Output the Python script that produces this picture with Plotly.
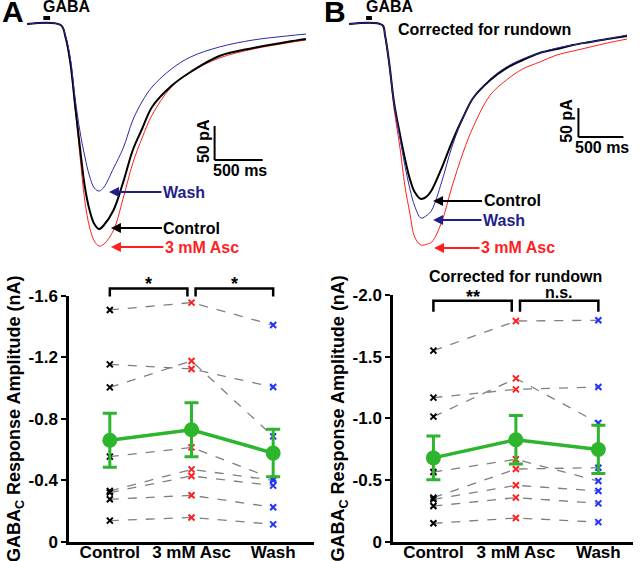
import numpy as np
import plotly.graph_objects as go

# ---------------- example current traces (time ms, current pA) ----------------
t_a = [0, 350, 400, 450, 500, 550, 600, 650, 700, 750, 800, 900, 1000, 1100,
       1200, 1300, 1500, 1700, 2000, 2350, 2700, 2900]
wash_a = [0, -1.5, -17.6, -50.0, -108.8, -157.3, -194.1, -223.5, -241.2, -245.6,
          -239.7, -211.8, -182.4, -141.2, -113.2, -92.6, -66.2, -48.5, -33.8,
          -23.5, -17.6, -14.7]
ctrl_a = [0, -1.5, -19.1, -55.9, -119.1, -180.9, -238.2, -273.5, -294.1, -301.5,
          -295.5, -273.4, -232.3, -185.2, -152.9, -122.0, -91.2, -70.6, -47.1,
          -35.3, -26.5, -22.1]
asc_a = [0, -1.5, -20.6, -58.8, -123.5, -192.6, -258.8, -298.5, -319.1, -326.5,
         -323.5, -302.8, -255.9, -204.4, -166.2, -133.8, -92.6, -70.6, -50.0,
         -36.8, -27.9, -23.5]

t_b = [0, 370, 400, 450, 500, 570, 620, 680, 730, 800, 870, 920, 1030, 1140,
       1270, 1380, 1570, 1750, 1930, 2120, 2310, 2490, 2680, 2870, 3090]
wash_b = [0, -1.7, -19.0, -70.7, -136.2, -199.9, -242.9, -286.2, -313.8, -334.5,
          -329.3, -320.7, -272.4, -213.8, -160.3, -127.6, -94.8, -74.1, -60.3,
          -50.0, -41.4, -36.2, -31.0, -25.9, -19.0]
ctrl_b = [0, -1.7, -19.0, -70.7, -134.5, -193.1, -231.0, -269.0, -289.7, -301.7,
          -296.6, -286.2, -248.3, -205.2, -160.3, -127.6, -96.6, -75.9, -62.1,
          -50.0, -43.1, -36.2, -31.0, -25.9, -20.7]
asc_b = [0, -1.7, -20.7, -75.9, -144.8, -217.2, -277.6, -329.3, -367.2, -381.0,
         -379.3, -375.9, -341.4, -282.8, -220.7, -177.6, -122.4, -96.6, -77.6,
         -65.5, -53.4, -46.6, -39.7, -32.8, -25.9]

gaba_a = [170, 240]
gaba_b = [190, 255]

# ---------------- response amplitudes (nA), one entry per cell ----------------
cond = ["Control", "3 mM Asc", "Wash"]
amp_a_ctrl = [-1.509, -1.155, -1.005, -0.554, -0.330, -0.320, -0.276, -0.137]
amp_a_asc = [-1.557, -1.125, -1.177, -0.614, -0.471, -0.428, -0.302, -0.158]
amp_a_wash = [-1.411, -1.007, -0.686, -0.410, -0.400, -0.365, -0.224, -0.113]

amp_b_ctrl = [-1.549, -1.168, -1.014, -0.565, -0.357, -0.343, -0.289, -0.149]
amp_b_asc = [-1.789, -1.235, -1.324, -0.668, -0.589, -0.457, -0.357, -0.192]
amp_b_wash = [-1.795, -1.254, -0.962, -0.492, -0.600, -0.411, -0.311, -0.159]

yt_a = [0, -0.4, -0.8, -1.2, -1.6]
yt_a_text = ["0", "-0.4", "-0.8", "-1.2", "-1.6"]
yt_b = [0, -0.5, -1.0, -1.5, -2.0]
yt_b_text = ["0", "-0.5", "-1.0", "-1.5", "-2.0"]

RED = "#ff1f1f"
NAVY = "#2a2aa6"
NAVY_TXT = "#1f1f8c"
BLUE_X = "#2233ff"
GREEN = "#2db52d"
FONT = "Liberation Sans, Arial, sans-serif"

fig = go.Figure()

# top traces
for xa, ya, t, c, a, w in [("x", "y", t_a, ctrl_a, asc_a, wash_a),
                           ("x2", "y2", t_b, ctrl_b, asc_b, wash_b)]:
    fig.add_trace(go.Scatter(x=t, y=a, mode="lines", line=dict(color=RED, width=1, shape="spline"),
                             xaxis=xa, yaxis=ya))
    fig.add_trace(go.Scatter(x=t, y=c, mode="lines", line=dict(color="black", width=2, shape="spline"),
                             xaxis=xa, yaxis=ya))
    fig.add_trace(go.Scatter(x=t, y=w, mode="lines", line=dict(color=NAVY, width=1, shape="spline"),
                             xaxis=xa, yaxis=ya))

# bottom scatter plots
for xa, ya, c, a, w in [("x3", "y3", amp_a_ctrl, amp_a_asc, amp_a_wash),
                        ("x4", "y4", amp_b_ctrl, amp_b_asc, amp_b_wash)]:
    for i in range(len(c)):
        fig.add_trace(go.Scatter(
            x=[0, 1, 2], y=[c[i], a[i], w[i]], mode="lines+markers",
            line=dict(color="#7f7f7f", width=1.3, dash="dash"),
            marker=dict(symbol="x-thin", size=6, line=dict(width=2, color=["black", RED, BLUE_X])),
            xaxis=xa, yaxis=ya))
    vals = np.array([c, a, w])
    means = vals.mean(axis=1)
    sems = vals.std(axis=1, ddof=1) / np.sqrt(vals.shape[1])
    fig.add_trace(go.Scatter(
        x=[0, 1, 2], y=means, mode="lines+markers",
        line=dict(color=GREEN, width=3.5),
        marker=dict(symbol="circle", size=15, color=GREEN),
        error_y=dict(type="data", array=sems, color=GREEN, thickness=3, width=7),
        xaxis=xa, yaxis=ya))

hidden = dict(visible=False, showgrid=False, zeroline=False, automargin=False)
axis_common = dict(showline=True, linecolor="black", linewidth=2.5, showgrid=False,
                   zeroline=False, tickfont=dict(size=17), automargin=False)
yticks = dict(ticks="outside", ticklen=5, tickwidth=2, tickcolor="black")
xticks = dict(ticks="", ticklabelstandoff=-7)

fig.update_layout(
    template="none",
    width=640, height=561, margin=dict(l=0, r=0, t=0, b=0, pad=0), autosize=False,
    paper_bgcolor="white", plot_bgcolor="white", showlegend=False,
    font=dict(family=FONT, size=16, color="black", weight="bold"),
    xaxis=dict(domain=[27 / 640, 306 / 640], range=[0, 2900], anchor="y", **hidden),
    yaxis=dict(domain=[1 - 255 / 561, 1 - 20 / 561], range=[-339.6, 5.9], anchor="x", **hidden),
    xaxis2=dict(domain=[349 / 640, 627 / 640], range=[0, 3090], anchor="y2", **hidden),
    yaxis2=dict(domain=[1 - 255 / 561, 1 - 20 / 561], range=[-398.2, 6.9], anchor="x2", **hidden),
    xaxis3=dict(domain=[69 / 640, 314 / 640], range=[-0.5, 2.5], anchor="y3",
                tickvals=[0, 1, 2], ticktext=cond, **xticks, **axis_common),
    yaxis3=dict(domain=[1 - 541.7 / 561, 1 - 296 / 561], range=[0, -1.6], anchor="x3",
                tickvals=yt_a, ticktext=yt_a_text,
                title=dict(text="GABA<sub>C</sub> Response Amplitude (nA)", font=dict(size=18), standoff=4),
                **yticks, **axis_common),
    xaxis4=dict(domain=[393 / 640, 633 / 640], range=[-0.49, 2.42], anchor="y4",
                tickvals=[0, 1, 2], ticktext=cond, **xticks, **axis_common),
    yaxis4=dict(domain=[1 - 541.7 / 561, 1 - 295 / 561], range=[0, -2.0], anchor="x4",
                tickvals=yt_b, ticktext=yt_b_text,
                title=dict(text="GABA<sub>C</sub> Response Amplitude (nA)", font=dict(size=18), standoff=4),
                **yticks, **axis_common),
)

shapes = []
ann = []

# scale bars and GABA bars
for xr, yr, x0, y0, g in [("x", "y", 1950, -200, gaba_a), ("x2", "y2", 2550, -195, gaba_b)]:
    shapes.append(dict(type="line", xref=xr, yref=yr, x0=x0, x1=x0, y0=y0, y1=y0 + 50,
                       line=dict(color="black", width=2)))
    shapes.append(dict(type="line", xref=xr, yref=yr, x0=x0, x1=x0 + 500, y0=y0, y1=y0,
                       line=dict(color="black", width=2)))
    ann.append(dict(xref=xr, yref=yr, x=x0, y=y0 + 28, text="50 pA", textangle=-90,
                    xanchor="right", yanchor="middle", showarrow=False, xshift=-1))
    ann.append(dict(xref=xr, yref=yr, x=x0 + 260, y=y0, text="500 ms",
                    xanchor="center", yanchor="top", showarrow=False))
    shapes.append(dict(type="rect", xref=xr, yref=yr + " domain", x0=g[0], x1=g[1], y0=1.0, y1=1.017,
                       fillcolor="black", line=dict(width=0)))
    ann.append(dict(xref=xr, yref="paper", x=g[0] - 15, y=1, text="GABA",
                    xanchor="left", yanchor="top", showarrow=False, yshift=3, borderpad=0))

# labelled arrows on the traces
for xr, yr, items in [
    ("x", "y", [(842, -247, "Wash", NAVY_TXT, 76), (862, -300, "Control", "black", 82),
                (862, -328, "3 mM Asc", RED, 92)]),
    ("x2", "y2", [(923, -305, "Control", "black", 80), (923, -338, "Wash", NAVY_TXT, 72),
                  (934, -386, "3 mM Asc", RED, 85)]),
]:
    for x, y, txt, col, dx in items:
        ann.append(dict(xref=xr, yref=yr, x=x, y=y, ax=dx, ay=0, text=txt,
                        font=dict(color=col, size=16), showarrow=True, arrowhead=2,
                        arrowsize=1, arrowwidth=2, arrowcolor=col, standoff=1))

# panel letters and titles
ann.append(dict(xref="paper", yref="paper", x=1 / 640, y=1, text="A", font=dict(size=30),
                xanchor="left", yanchor="top", showarrow=False, yshift=6, borderpad=0))
ann.append(dict(xref="paper", yref="paper", x=323 / 640, y=1, text="B", font=dict(size=30),
                xanchor="left", yanchor="top", showarrow=False, yshift=6, borderpad=0))
ann.append(dict(xref="paper", yref="paper", x=396 / 640, y=1 - 30 / 561, text="Corrected for rundown",
                xanchor="left", yanchor="middle", showarrow=False))
ann.append(dict(xref="x4", yref="y4 domain", x=1, y=1.075, text="Corrected for rundown",
                xanchor="center", yanchor="middle", showarrow=False))

# significance brackets
for xr, yr, yb, drop, labels in [("x3", "y3 domain", 1.031, 0.033, ["*", "*"]),
                                 ("x4", "y4 domain", 0.977, 0.045, ["**", "n.s."])]:
    for (xl, xh), lab in zip([(0, 0.95), (1.05, 2)], labels):
        shapes.append(dict(type="path", xref=xr, yref=yr,
                           path=f"M {xl},{yb - drop} L {xl},{yb} L {xh},{yb} L {xh},{yb - drop}",
                           line=dict(color="black", width=2.5)))
        star = "*" in lab
        ann.append(dict(xref=xr, yref=yr, x=(xl + xh) / 2, y=yb, text=lab,
                        xanchor="center", yanchor="bottom", showarrow=False,
                        yshift=-8 if star else -2, font=dict(size=18 if star else 16)))

fig.update_layout(shapes=shapes, annotations=ann)
fig.write_html("out.html", config={"displayModeBar": False},
               post_script="document.body.style.margin='0px';")
